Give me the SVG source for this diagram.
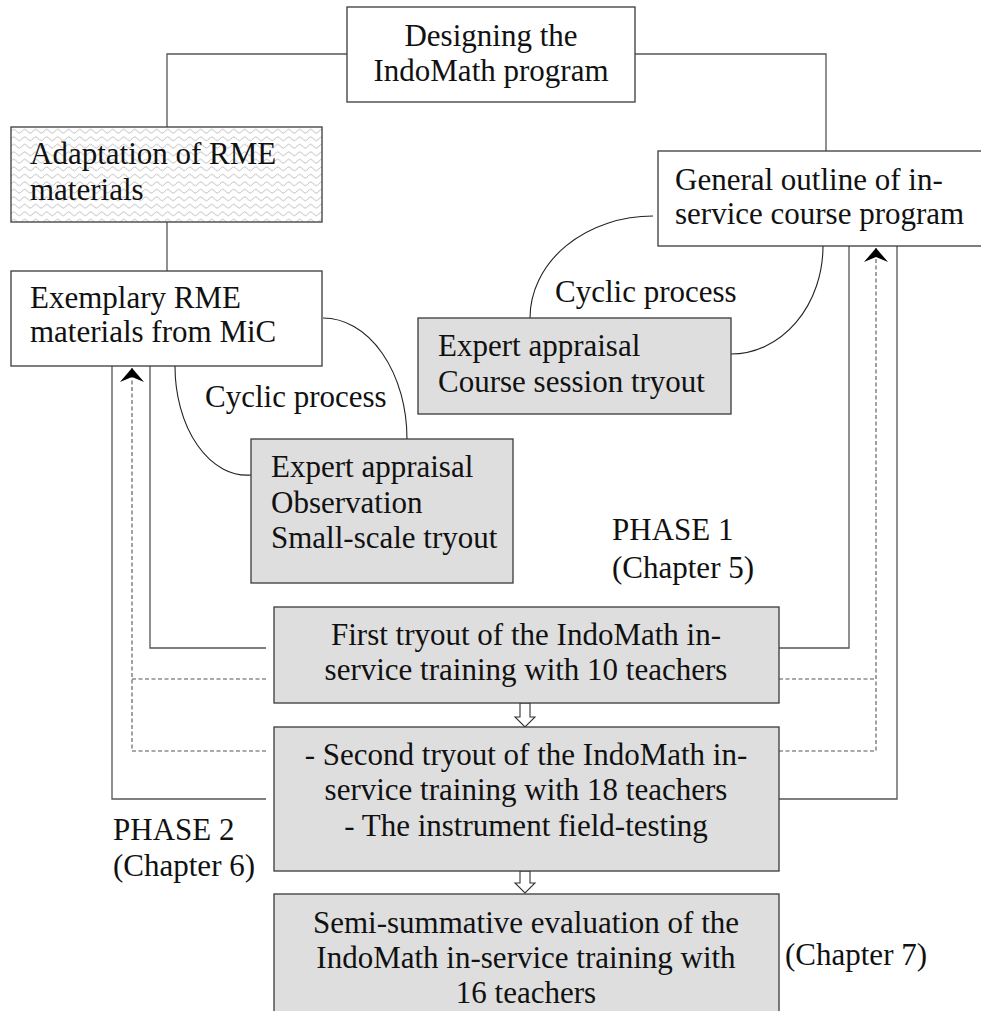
<svg xmlns="http://www.w3.org/2000/svg" width="981" height="1011" viewBox="0 0 981 1011">
  <style>
    text { font-family: "Liberation Serif", "Times New Roman", serif; font-size: 31px; fill: #111; }
    .mid { text-anchor: middle; }
    .box { stroke: #3a3a3a; stroke-width: 1.3; }
    .plain { fill: #fff; }
    .grey { fill: #dedede; }
    .wave { fill: url(#wavy); }
    .link { fill: none; stroke: #555; stroke-width: 1.3; }
    .dash { fill: none; stroke: #555; stroke-width: 1.1; stroke-dasharray: 4 2.5; }
    .arc { fill: none; stroke: #222; stroke-width: 1.1; }
    .hollow { fill: #fff; stroke: #333; stroke-width: 1.1; }
  </style>
  <defs>
    <pattern id="wavy" width="11" height="7.5" patternUnits="userSpaceOnUse">
      <rect width="11" height="7.5" fill="#fff"/>
      <path d="M0,3.75 Q2.75,0 5.5,3.75 T11,3.75" fill="none" stroke="#b5b5b5" stroke-width="0.9"/>
    </pattern>
    <!-- dart arrowhead pointing along +x, tip at origin -->
    <marker id="dart" viewBox="-15 -13 16 26" refX="0" refY="0" markerWidth="16" markerHeight="26" markerUnits="userSpaceOnUse" orient="auto">
      <path d="M0,0 L-14,-12 L-9,0 L-14,12 Z" fill="#000"/>
    </marker>
  </defs>

  <rect width="981" height="1011" fill="#fff"/>

  <!-- connectors -->
  <g id="connectors">
    <polyline class="link" points="347,54 167,54 167,127"/>
    <polyline class="link" points="635,54 826,54 826,151"/>
    <line class="link" x1="167" y1="222" x2="167" y2="271"/>

    <!-- cyclic arcs, materials side -->
    <path class="arc" d="M175,366 A72,109 0 0 0 251,475"/>
    <path class="arc" d="M323,318 A84,121 0 0 1 407,439"/>
    <!-- cyclic arcs, course side -->
    <path class="arc" d="M653,216 A123,102 0 0 0 530,318"/>
    <path class="arc" d="M823,246 A92,108 0 0 1 731,354"/>

    <!-- feedback to exemplary materials -->
    <polyline class="link" points="266,648 150,648 150,366"/>
    <polyline class="link" points="266,799 112,799 112,366"/>
    <polyline class="dash" points="266,679 132,679"/>
    <polyline class="dash" points="266,751 132,751 132,368" marker-end="url(#dart)"/>

    <!-- feedback to course outline -->
    <polyline class="link" points="779,648 849,648 849,246"/>
    <polyline class="link" points="779,799 897,799 897,246"/>
    <polyline class="dash" points="779,679 876,679"/>
    <polyline class="dash" points="779,751 876,751 876,248" marker-end="url(#dart)"/>

    <!-- hollow down arrows -->
    <path class="hollow" d="M520,703 L530,703 L530,717 L535,717 L525,727 L515,717 L520,717 Z"/>
    <path class="hollow" d="M520,871 L530,871 L530,883 L535,883 L525,893 L515,883 L520,883 Z"/>
  </g>

  <g id="designing">
    <rect class="box plain" x="347" y="7" width="288" height="95"/>
    <text class="mid" x="491" y="46">Designing the</text>
    <text class="mid" x="491" y="81">IndoMath program</text>
  </g>

  <g id="adaptation">
    <rect class="box wave" x="11" y="127" width="311" height="95"/>
    <text x="30" y="164">Adaptation of RME</text>
    <text x="30" y="200">materials</text>
  </g>

  <g id="exemplary">
    <rect class="box plain" x="11" y="271" width="311" height="95"/>
    <text x="30" y="308">Exemplary RME</text>
    <text x="30" y="342">materials from MiC</text>
  </g>

  <g id="outline">
    <rect class="box plain" x="658" y="151" width="330" height="95"/>
    <text x="675" y="190">General outline of in-</text>
    <text x="675" y="224">service course program</text>
  </g>

  <g id="course-tryout">
    <rect class="box grey" x="418" y="318" width="313" height="96"/>
    <text x="438" y="356">Expert appraisal</text>
    <text x="438" y="392">Course session tryout</text>
  </g>

  <g id="materials-tryout">
    <rect class="box grey" x="251" y="439" width="262" height="144"/>
    <text x="271" y="477">Expert appraisal</text>
    <text x="271" y="513">Observation</text>
    <text x="271" y="548">Small-scale tryout</text>
  </g>

  <g id="cyclic-labels">
    <text x="205" y="407">Cyclic process</text>
    <text x="555" y="302">Cyclic process</text>
  </g>

  <g id="phase1">
    <text x="612" y="540">PHASE 1</text>
    <text x="612" y="578">(Chapter 5)</text>
  </g>

  <g id="first-tryout">
    <rect class="box grey" x="274" y="607" width="505" height="96"/>
    <text class="mid" x="526" y="645">First tryout of the IndoMath in-</text>
    <text class="mid" x="526" y="680">service training with 10 teachers</text>
  </g>

  <g id="second-tryout">
    <rect class="box grey" x="274" y="727" width="505" height="144"/>
    <text class="mid" x="526" y="765">- Second tryout of the IndoMath in-</text>
    <text class="mid" x="526" y="800">service training with 18 teachers</text>
    <text class="mid" x="526" y="836">- The instrument field-testing</text>
  </g>

  <g id="phase2">
    <text x="113" y="840">PHASE 2</text>
    <text x="113" y="876">(Chapter 6)</text>
  </g>

  <g id="evaluation">
    <rect class="box grey" x="274" y="894" width="505" height="130"/>
    <text class="mid" x="526" y="933">Semi-summative evaluation of the</text>
    <text class="mid" x="526" y="968">IndoMath in-service training with</text>
    <text class="mid" x="526" y="1003">16 teachers</text>
  </g>

  <g id="chapter7">
    <text x="785" y="965">(Chapter 7)</text>
  </g>
</svg>
